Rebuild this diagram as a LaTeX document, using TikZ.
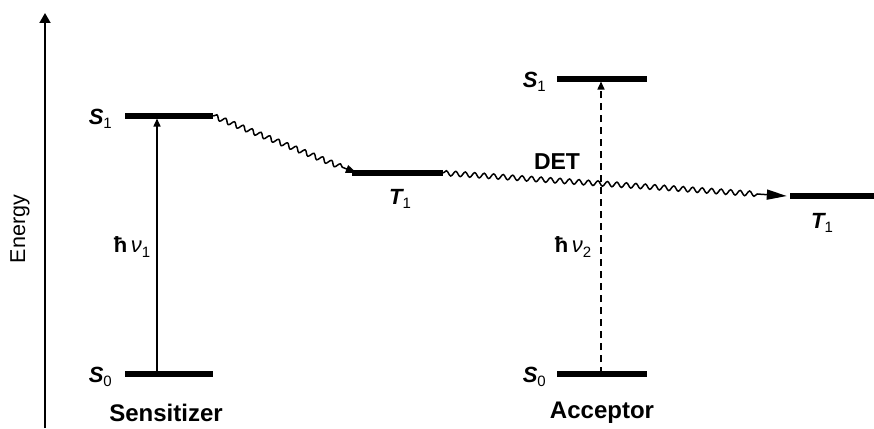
\documentclass[tikz,border=0pt]{standalone}
\usepackage{fontspec}
\setmainfont{Liberation Sans}
\usetikzlibrary{arrows.meta,decorations.pathmorphing}
\begin{document}
\begin{tikzpicture}[x=1pt,y=-1pt,
  level/.style={fill=black,inner sep=0pt,minimum height=5.5pt,minimum width=#1},
  lbl/.style={inner sep=0pt,font=\fontsize{22}{24}\selectfont},
  wavy/.style={line width=1.5pt,decorate,
    decoration={snake,amplitude=2.5pt,segment length=9.5pt,post length=#1}},
  excite/.style={line width=1.5pt,-{Triangle[length=8pt,width=7pt]}}]
\useasboundingbox (0,0) rectangle (874,428);
\newcommand{\st}[2]{{\bfseries\itshape #1}\raisebox{-0.35ex}{\fontsize{15}{15}\selectfont #2}}

% energy axis
\coordinate (ebot) at (45,428);
\coordinate (etop) at (45,13);
\draw[line width=1.8pt,-{Triangle[length=10pt,width=11pt]}] (ebot) -- (etop);
\node[lbl,rotate=90,font=\fontsize{21.5}{24}\selectfont] (energy) at (20,229) {Energy};

% sensitizer levels
\node[level=88pt] (sS1) at (169,116) {};
\node[level=88pt] (sS0) at (169,374) {};
\node[level=91pt] (sT1) at (397.5,173) {};
% acceptor levels
\node[level=90pt] (aS1) at (602,79) {};
\node[level=90pt] (aS0) at (602,374) {};
\node[level=84pt] (aT1) at (832,196) {};

% level labels
\node[lbl,anchor=east] (lsS1) at (112,119) {\st{S}{1}};
\node[lbl,anchor=east] (lsS0) at (112,377) {\st{S}{0}};
\node[lbl] (lsT1) at (400,199) {\st{T}{1}};
\node[lbl,anchor=east] (laS1) at (546,82) {\st{S}{1}};
\node[lbl,anchor=east] (laS0) at (546,377) {\st{S}{0}};
\node[lbl] (laT1) at (822,223) {\st{T}{1}};

% excitation arrows
\coordinate (s1foot) at (157,374);
\coordinate (s1head) at (157,118.5);
\draw[excite] (s1foot) -- (s1head);
\coordinate (a1foot) at (601,374);
\coordinate (a1head) at (601,81.5);
\draw[excite,dash pattern=on 7pt off 5pt] (a1foot) -- (a1head);
\node[lbl,fill=white,inner sep=1pt] (hv1) at (132,247) {\textbf{ħ}\,\textit{ν}\raisebox{-0.35ex}{\fontsize{15}{15}\selectfont 1}};
\node[lbl] (hv2) at (573,247) {\textbf{ħ}\,\textit{ν}\raisebox{-0.35ex}{\fontsize{15}{15}\selectfont 2}};

% energy transfer
\draw[wavy=13pt,-{Triangle[length=11pt,width=8pt]}] (sS1.east) -- ([xshift=5pt]sT1.west);
\draw[wavy=28pt,-{Triangle[length=20pt,width=10pt]}] (sT1.east) -- ([xshift=-3pt]aT1.west);
\node[lbl,font=\fontsize{23}{24}\selectfont\bfseries] (det) at (557,162) {DET};

% molecule names
\node[lbl,font=\fontsize{24}{26}\selectfont\bfseries] (sens) at (166,413) {Sensitizer};
\node[lbl,font=\fontsize{24}{26}\selectfont\bfseries] (acc) at (602,413) {Acceptor};
\end{tikzpicture}
\end{document}
